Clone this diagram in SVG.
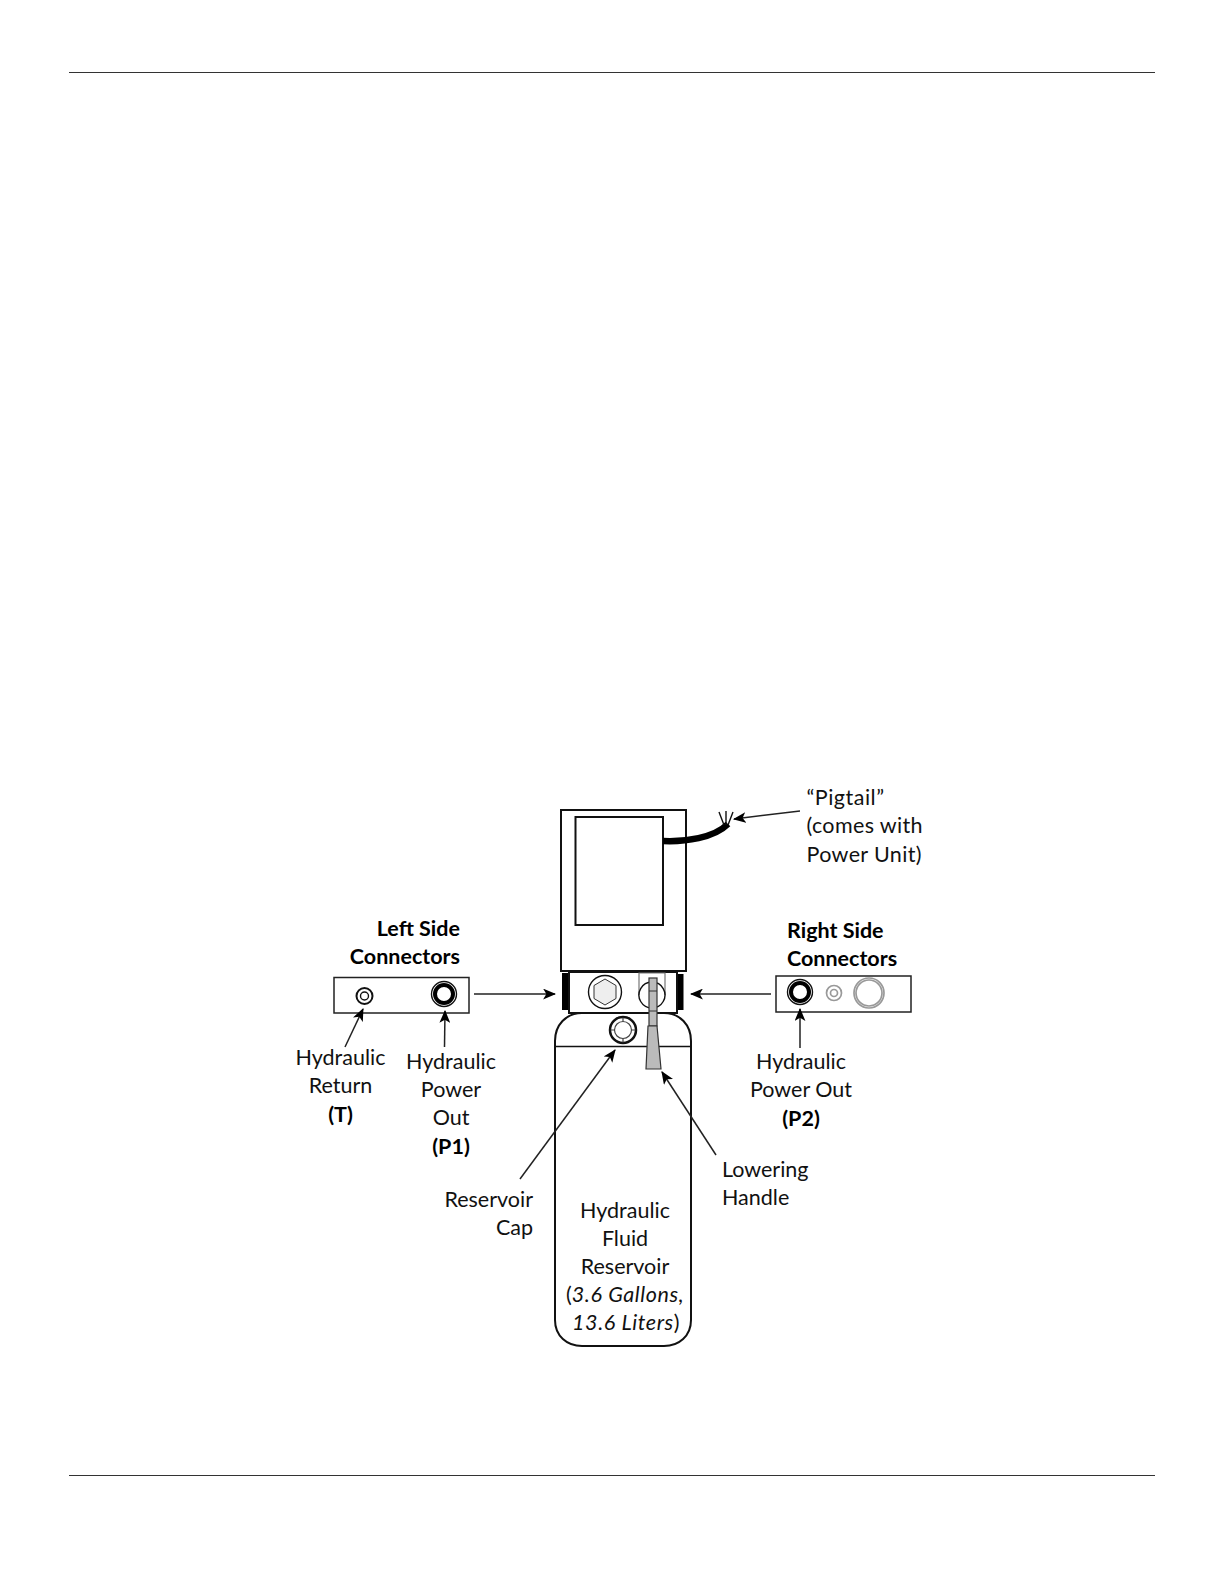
<svg xmlns="http://www.w3.org/2000/svg" width="1224" height="1584" viewBox="0 0 1224 1584">
<style>
text{font-family:Lato,"Liberation Sans",sans-serif;font-size:21.5px;fill:#111}
.b{font-weight:700;fill:#000}.i{font-style:italic;letter-spacing:.6px}.m{text-anchor:middle}.e{text-anchor:end}
.w{letter-spacing:.35px}
.s{fill:#fff;stroke:#111;stroke-width:2}
.n{fill:#fff;stroke:#222;stroke-width:1.5}
.t{fill:none;stroke:#111;stroke-width:1.4}
.d{fill:none;stroke:#111;stroke-width:2}
.k{fill:none;stroke:#000;stroke-width:4}
.g{fill:none;stroke:#999;stroke-width:1.7}
.h{fill:#bbb;stroke:#333;stroke-width:1.2}
.c line{stroke:#222;stroke-width:1.5;marker-end:url(#a)}
</style>
<defs><marker id="a" viewBox="0 0 12 10" refX="11" refY="5" markerWidth="13" markerHeight="11" markerUnits="userSpaceOnUse" orient="auto"><path d="M0 0L12 5L0 10L3 5Z" fill="#000"/></marker></defs>
<rect width="1224" height="1584" fill="#fff"/>
<g id="rules" stroke="#333" stroke-width="1"><line x1="69" y1="72.500" x2="1155" y2="72.500"/><line x1="69" y1="1475.500" x2="1155" y2="1475.500"/></g>
<g id="reservoir"><path class="s" d="M555 1041C555 1025 566 1013 582 1013H664C680 1013 691 1025 691 1041V1320C691 1336 679 1346 664 1346H582C567 1346 555 1336 555 1320Z"/><line x1="555" y1="1046.500" x2="691" y2="1046.500" stroke="#111" stroke-width="1.6"/>
<text class="m" x="625" y="1217.500">Hydraulic</text><text class="m" x="625" y="1245.500">Fluid</text><text class="m" x="625" y="1273.500">Reservoir</text><text x="566" y="1301.500">(<tspan class="i">3.6 Gallons,</tspan></text><text x="572" y="1329.500"><tspan class="i">13.6 Liters</tspan>)</text></g>
<g id="power-unit"><rect class="s" x="561" y="810" width="125" height="161"/><rect class="s" x="575.500" y="817" width="87.500" height="108"/></g>
<g id="pigtail"><path d="M663 841C685 842 714 838 728 824" fill="none" stroke="#000" stroke-width="6.500"/><path class="t" d="M724 825L719 812M726 825L726 811M728 825L733 812"/></g>
<g id="valve-block"><rect x="562" y="973" width="6.500" height="37" fill="#000"/><rect x="678" y="974" width="5.500" height="36" fill="#000"/><rect class="s" x="569" y="972" width="108" height="41"/>
<circle class="t" cx="605" cy="992" r="16.500"/><path d="M605 979L616 985.500V998.500L605 1005L594 998.500V985.500Z" fill="#eee" stroke="#333" stroke-width="1"/>
<path d="M639 995V973H665V995" fill="none" stroke="#777" stroke-width="1.200"/><path class="t" d="M652 982A13 13 0 1 1 651.900 982Z"/></g>
<g id="reservoir-cap"><circle cx="623" cy="1030" r="13" fill="#fff" stroke="#111" stroke-width="2.500"/><circle cx="623" cy="1030" r="8.500" fill="none" stroke="#444" stroke-width="1.200"/><path d="M623 1017.500V1021.500M623 1038.500V1042.500M610.500 1030H614.500M631.500 1030H635.500" stroke="#444" stroke-width="1.200"/></g>
<g id="handle"><rect class="h" x="649" y="978" width="8" height="48"/><path d="M649 991H657M649 1011H657" stroke="#333" stroke-width="1"/><path class="h" d="M648 1026H657L661 1069H646Z"/></g>
<g id="left-connectors"><rect class="n" x="334" y="977.500" width="135" height="35.500"/>
<circle class="d" cx="364.500" cy="996" r="8"/><circle class="t" cx="364.500" cy="996" r="4"/><circle class="t" cx="444" cy="994" r="12.500"/><circle class="k" cx="444" cy="994" r="9"/>
<text class="b" x="460" y="935.500" text-anchor="end">Left Side</text><text class="b e" x="460" y="963.500">Connectors</text>
<text class="m" x="340.500" y="1064.500">Hydraulic</text><text class="m" x="340.500" y="1093">Return</text><text class="m b" x="340.500" y="1121.500">(T)</text>
<text class="m" x="451" y="1068.500">Hydraulic</text><text class="m" x="451" y="1097">Power</text><text class="m" x="451" y="1125">Out</text><text class="m b" x="451" y="1153.500">(P1)</text></g>
<g id="right-connectors"><rect class="n" x="776" y="976" width="135" height="36"/>
<circle class="t" cx="800" cy="992" r="12.500"/><circle class="k" cx="800" cy="992" r="9"/>
<circle class="g" cx="834" cy="993" r="7.500"/><circle class="g" cx="834" cy="993" r="3.500"/><circle class="g" cx="869" cy="993" r="15"/><circle class="g" cx="869" cy="993" r="13"/>
<text class="b" x="787" y="937.500">Right Side</text><text class="b" x="787" y="965.500">Connectors</text>
<text class="m" x="801" y="1069">Hydraulic</text><text class="m" x="801" y="1097">Power Out</text><text class="m b" x="801" y="1125.500">(P2)</text></g>
<g id="labels"><text x="806.500" y="805" style="letter-spacing:.5px">“Pigtail”</text><text class="w" x="806.500" y="833">(comes with</text><text class="w" x="806.500" y="861.500">Power Unit)</text>
<text class="e" x="533" y="1206.500">Reservoir</text><text class="e" x="533" y="1235">Cap</text>
<text x="722" y="1176.500">Lowering</text><text x="722" y="1204.500">Handle</text></g>
<g id="connectors" class="c">
<line x1="800" y1="811" x2="734" y2="819"/>
<line x1="474" y1="994" x2="555" y2="994"/>
<line x1="771" y1="994" x2="691" y2="994"/>
<line x1="345" y1="1047" x2="363" y2="1009"/>
<line x1="444.500" y1="1047" x2="445" y2="1011"/>
<line x1="800" y1="1048" x2="800" y2="1009"/>
<line x1="520" y1="1179" x2="615" y2="1050"/>
<line x1="716" y1="1155" x2="662" y2="1072"/>
</g>
</svg>
